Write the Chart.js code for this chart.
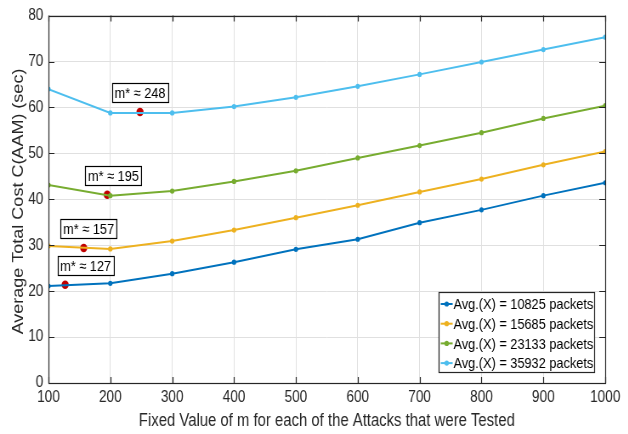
<!DOCTYPE html>
<html>
<head>
<meta charset="utf-8">
<script src="https://cdn.jsdelivr.net/npm/chart.js@4.4.1/dist/chart.umd.min.js"></script>
<style>
  html, body { margin: 0; padding: 0; background: #fff; overflow: hidden; }
  /* the figure is drawn wide and squeezed horizontally, which gives the narrow lettering */
  #wrap { width: 739px; height: 434px; transform: scaleX(0.85); transform-origin: 0 0; }
</style>
</head>
<body>
<div id="wrap"><canvas id="c" width="739" height="434"></canvas></div>
<script>
var mValues = [100, 200, 300, 400, 500, 600, 700, 800, 900, 1000];

var cost10825 = [21.1, 21.7, 23.8, 26.3, 29.1, 31.3, 34.9, 37.7, 40.8, 43.6];
var cost15685 = [29.85, 29.2, 30.9, 33.3, 36.0, 38.7, 41.6, 44.4, 47.5, 50.4];
var cost23133 = [43.1, 40.8, 41.8, 43.9, 46.2, 49.0, 51.7, 54.5, 57.6, 60.4];
var cost35932 = [64.0, 58.8, 58.8, 60.2, 62.2, 64.6, 67.2, 69.9, 72.6, 75.3];

var seriesNames = [
  "Avg.(X) = 10825 packets",
  "Avg.(X) = 15685 packets",
  "Avg.(X) = 23133 packets",
  "Avg.(X) = 35932 packets"
];
var seriesColors = ["#0072BD", "#EDB120", "#77AC30", "#4DBEEE"];

// optimal m* for each series and the cost there
var optM = [127, 157, 195, 248];
var optCost = [21.4, 29.4, 41.0, 59.0];
var optText = ["m* \u2248 127", "m* \u2248 157", "m* \u2248 195", "m* \u2248 248"];
// x (in m units) where each text box is centred
var optBoxM = [160, 165, 205, 248];

var xTicks = [100, 200, 300, 400, 500, 600, 700, 800, 900, 1000];
var yTicks = [0, 10, 20, 30, 40, 50, 60, 70, 80];

var yTitle = "Average Total Cost C(AAM) (sec)";
var xTitle = "Fixed Value of m for each of the Attacks that were Tested";

var FONT = "'Liberation Sans', Arial, Helvetica, sans-serif";
var INK = "#262626";

function pts(vals) {
  return mValues.map(function(m, i) { return { x: m, y: vals[i] }; });
}

var datasets = [cost10825, cost15685, cost23133, cost35932].map(function(vals, i) {
  return {
    label: seriesNames[i],
    data: pts(vals),
    borderColor: seriesColors[i],
    backgroundColor: seriesColors[i],
    borderWidth: 2,
    pointRadius: 2.6,
    pointHoverRadius: 2.6,
    pointBorderWidth: 0,
    tension: 0
  };
});

optM.forEach(function(m, i) {
  datasets.push({
    label: "opt" + i,
    data: [{ x: m, y: optCost[i] }],
    showLine: false,
    pointRadius: 4.2,
    pointBorderWidth: 0,
    backgroundColor: "#C00000",
    borderColor: "#C00000"
  });
});

// MATLAB-style frame: inward ticks on all four sides, dark box
var framePlugin = {
  id: "frame",
  afterDatasetsDraw: function(chart) {
    var ctx = chart.ctx, a = chart.chartArea;
    var xs = chart.scales.x, ys = chart.scales.y;
    ctx.save();
    ctx.strokeStyle = INK;
    ctx.lineWidth = 1.2;
    ctx.beginPath();
    xTicks.forEach(function(t) {
      var px = Math.round(xs.getPixelForValue(t)) + 0.5;
      ctx.moveTo(px, a.bottom); ctx.lineTo(px, a.bottom - 6);
      ctx.moveTo(px, a.top); ctx.lineTo(px, a.top + 6);
    });
    yTicks.forEach(function(t) {
      var py = Math.round(ys.getPixelForValue(t)) + 0.5;
      ctx.moveTo(a.left, py); ctx.lineTo(a.left + 7, py);
      ctx.moveTo(a.right, py); ctx.lineTo(a.right - 7, py);
    });
    ctx.stroke();
    ctx.strokeRect(Math.round(a.left) + 0.5, Math.round(a.top) + 0.5,
      Math.round(a.right - a.left), Math.round(a.bottom - a.top));

    // y axis title
    ctx.save();
    ctx.translate(22.5, 201.5);
    ctx.rotate(-Math.PI / 2);
    ctx.fillStyle = INK;
    ctx.font = "18px " + FONT;
    ctx.textAlign = "center";
    ctx.textBaseline = "middle";
    ctx.fillText(yTitle, 0, 0);
    ctx.restore();

    // m* text boxes
    ctx.font = "15px " + FONT;
    ctx.textBaseline = "middle";
    ctx.textAlign = "center";
    ctx.lineWidth = 1.2;
    optText.forEach(function(txt, i) {
      var cx = xs.getPixelForValue(optBoxM[i]);
      var my = ys.getPixelForValue(optCost[i]);
      var w = ctx.measureText(txt).width + 6;
      var h = 19;
      var bx = Math.round(cx - w / 2) + 0.5, by = Math.round(my - 10 - h) + 0.5;
      ctx.fillStyle = "#fff";
      ctx.fillRect(bx, by, w, h);
      ctx.strokeStyle = "#000";
      ctx.strokeRect(bx, by, w, h);
      ctx.fillStyle = "#000";
      ctx.fillText(txt, cx, by + h / 2 + 1);
    });

    // legend box in the lower right corner
    var lx = 516.5, ly = 292.5, lw = 183, lh = 80;
    ctx.fillStyle = "#fff";
    ctx.fillRect(lx, ly, lw, lh);
    ctx.strokeStyle = INK;
    ctx.strokeRect(lx, ly, lw, lh);
    ctx.textAlign = "left";
    ctx.font = "15px " + FONT;
    seriesNames.forEach(function(name, i) {
      var y = ly + 11.5 + i * 19.7;
      ctx.strokeStyle = seriesColors[i];
      ctx.lineWidth = 2;
      ctx.beginPath();
      ctx.moveTo(lx + 2, y); ctx.lineTo(lx + 16, y);
      ctx.stroke();
      ctx.fillStyle = seriesColors[i];
      ctx.beginPath();
      ctx.arc(lx + 9, y, 2.6, 0, Math.PI * 2);
      ctx.fill();
      ctx.fillStyle = "#000";
      ctx.fillText(name, lx + 17, y + 1);
    });
    ctx.restore();
  }
};

new Chart(document.getElementById("c"), {
  type: "line",
  data: { datasets: datasets },
  plugins: [framePlugin],
  options: {
    responsive: false,
    animation: false,
    events: [],
    layout: { padding: { left: 0, right: 27, top: 14, bottom: 0 } },
    plugins: {
      legend: { display: false },
      tooltip: { enabled: false }
    },
    scales: {
      x: {
        type: "linear",
        min: 100,
        max: 1000,
        afterBuildTicks: function(s) { s.ticks = xTicks.map(function(v) { return { value: v }; }); },
        afterFit: function(s) { s.height = 51; },
        grid: { color: "#e0e0e0", lineWidth: 1, drawTicks: false },
        border: { display: false },
        ticks: {
          color: INK, font: { family: FONT, size: 16 }, padding: 5, maxRotation: 0,
          callback: function(v) { return String(v); }
        },
        title: {
          display: true,
          text: xTitle,
          color: INK,
          font: { family: FONT, size: 17.5 },
          padding: { top: 0, bottom: 2 }
        }
      },
      y: {
        min: 0,
        max: 80,
        afterBuildTicks: function(s) { s.ticks = yTicks.map(function(v) { return { value: v }; }); },
        afterFit: function(s) { s.width = 57; },
        grid: { color: "#e0e0e0", lineWidth: 1, drawTicks: false },
        border: { display: false },
        ticks: {
          color: INK, font: { family: FONT, size: 16 }, padding: 6,
          callback: function(v) { return String(v); }
        }
      }
    }
  }
});
</script>
</body>
</html>
